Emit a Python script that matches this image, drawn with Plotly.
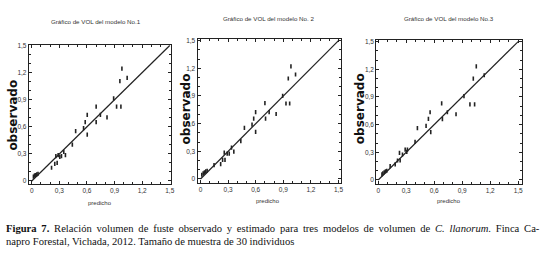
import plotly.graph_objects as go

# ---- data ----
pred1 = [0.018, 0.029, 0.039, 0.054, 0.068, 0.215, 0.25, 0.276, 0.262, 0.287, 0.305, 0.323, 0.348, 0.366,
         0.441, 0.477, 0.563, 0.581, 0.603, 0.603, 0.70, 0.70, 0.746, 0.818, 0.89, 0.922, 0.969, 0.958, 0.98, 1.037]
obs1 = [0.048, 0.059, 0.066, 0.073, 0.08, 0.146, 0.19, 0.20, 0.274, 0.285, 0.267, 0.274, 0.322, 0.285,
        0.402, 0.552, 0.585, 0.651, 0.732, 0.512, 0.651, 0.823, 0.732, 0.703, 0.915, 0.823, 0.823, 1.105, 1.244, 1.142]

pred2 = [0.014, 0.029, 0.043, 0.057, 0.072, 0.147, 0.219, 0.24, 0.266, 0.258, 0.29, 0.312, 0.337, 0.362,
         0.438, 0.477, 0.56, 0.578, 0.599, 0.599, 0.707, 0.70, 0.746, 0.822, 0.893, 0.929, 0.969, 0.954, 0.983, 1.033]
obs2 = [0.046, 0.06, 0.071, 0.082, 0.089, 0.15, 0.16, 0.207, 0.207, 0.286, 0.275, 0.275, 0.339, 0.296,
        0.41, 0.554, 0.59, 0.654, 0.725, 0.51, 0.654, 0.821, 0.725, 0.704, 0.9, 0.818, 0.818, 1.089, 1.221, 1.132]

pred3 = [0.04, 0.05, 0.064, 0.078, 0.092, 0.128, 0.182, 0.207, 0.235, 0.228, 0.26, 0.289, 0.306, 0.313,
         0.395, 0.42, 0.513, 0.538, 0.556, 0.563, 0.68, 0.688, 0.741, 0.834, 0.919, 0.983, 1.033, 1.019, 1.051, 1.136]
obs3 = [0.061, 0.071, 0.082, 0.093, 0.1, 0.15, 0.168, 0.211, 0.211, 0.294, 0.276, 0.329, 0.304, 0.329,
        0.412, 0.562, 0.587, 0.662, 0.734, 0.519, 0.831, 0.659, 0.734, 0.712, 0.909, 0.82, 0.82, 1.099, 1.232, 1.135]

diag = [0, 1.5]
tick_vals = [0, 0.3, 0.6, 0.9, 1.2, 1.5]
tick_text = ["0", "0,3", "0,6", "0,9", "1,2", "1,5"]
titles = ["Gráfico de VOL del modelo No.1", "Gráfico de VOL del modelo No. 2", "Gráfico de VOL del modelo No.3"]

W, H = 547, 264
panels = [
    dict(px=(29, 172), x0=32, x15=171, py=(42, 183), y0=180, y15=43, title=(97, 19), xl=(101, 202), yl=(13, 113)),
    dict(px=(199, 344), x0=202, x15=341, py=(36, 182), y0=178, y15=38, title=(270, 16), xl=(270, 200), yl=(187, 107)),
    dict(px=(379, 526), x0=381, x15=522, py=(37, 183), y0=179, y15=39, title=(452, 16), xl=(452, 200), yl=(362, 107)),
]
data = [(pred1, obs1), (pred2, obs2), (pred3, obs3)]

narrow = "Liberation Sans Narrow, Arial Narrow, Liberation Sans, Arial, sans-serif"
fig = go.Figure()
tickfont = dict(family=narrow, size=6.5, color="#333")
layout = {}
annotations = []
for i, (p, (xs, ys)) in enumerate(zip(panels, data)):
    n = "" if i == 0 else str(i + 1)
    xa, ya = "x" + n, "y" + n
    fig.add_trace(go.Scatter(x=diag, y=diag, mode="lines", line=dict(color="#222", width=1.2),
                             xaxis=xa, yaxis=ya, showlegend=False, hoverinfo="skip"))
    fig.add_trace(go.Scatter(x=xs, y=ys, mode="markers",
                             marker=dict(symbol="line-ns", size=3, line=dict(color="#222", width=1.6)),
                             xaxis=xa, yaxis=ya, showlegend=False))
    sx = (p["x15"] - p["x0"]) / 1.5
    sy = (p["y0"] - p["y15"]) / 1.5
    xr = [(p["px"][0] - p["x0"]) / sx, (p["px"][1] - p["x0"]) / sx]
    yr = [(p["y0"] - p["py"][1]) / sy, (p["y0"] - p["py"][0]) / sy]
    common = dict(showgrid=False, zeroline=False, showline=True, linecolor="#222", linewidth=1,
                  mirror="allticks", ticks="inside", ticklen=3, tickcolor="#222",
                  tickvals=tick_vals, ticktext=tick_text, tickfont=tickfont,
                  minor=dict(ticks="inside", ticklen=2, dtick=0.1, tick0=0, tickcolor="#222"))
    layout["xaxis" + n] = dict(domain=[p["px"][0] / W, p["px"][1] / W], range=xr, anchor=ya, **common)
    layout["yaxis" + n] = dict(domain=[1 - p["py"][1] / H, 1 - p["py"][0] / H], range=yr, anchor=xa, **common)
    annotations.append(dict(text=titles[i], x=p["title"][0] / W, y=1 - p["title"][1] / H, xref="paper", yref="paper",
                            showarrow=False, xanchor="center", yanchor="middle",
                            font=dict(family=narrow, size=6.2, color="#333")))
    annotations.append(dict(text="predicho", x=p["xl"][0] / W, y=1 - p["xl"][1] / H, xref="paper", yref="paper",
                            showarrow=False, xanchor="center", yanchor="middle",
                            font=dict(family=narrow, size=6, color="#333")))
    annotations.append(dict(text="<b>observado</b>", x=p["yl"][0] / W, y=1 - p["yl"][1] / H, xref="paper", yref="paper",
                            showarrow=False, xanchor="center", yanchor="middle", textangle=-90,
                            font=dict(family="DejaVu Sans, Verdana, sans-serif", size=12, color="#111")))

cap_font = dict(family="Liberation Serif, Times New Roman, serif", size=10.6, color="#111")
line1 = ("<b>Figura 7.</b> Relación volumen de fuste observado y estimado para tres modelos de volumen de "
         "<i>C. llanorum</i>. Finca Ca-").replace(" ", " \u2009")
line2 = "napro Forestal, Vichada, 2012. Tamaño de muestra de 30 individuos"
annotations.append(dict(text=line1, x=4 / W, y=1 - 228 / H, xref="paper", yref="paper", showarrow=False,
                        xanchor="left", yanchor="middle", font=cap_font))
annotations.append(dict(text=line2, x=4 / W, y=1 - 241 / H, xref="paper", yref="paper", showarrow=False,
                        xanchor="left", yanchor="middle", font=cap_font))

fig.update_layout(width=W, height=H, margin=dict(l=0, r=0, t=0, b=0),
                  paper_bgcolor="white", plot_bgcolor="white", annotations=annotations, **layout)
fig.write_html("out.html", config={"displayModeBar": False, "staticPlot": True},
               post_script="document.body.style.margin='0';document.body.style.overflow='hidden';")
